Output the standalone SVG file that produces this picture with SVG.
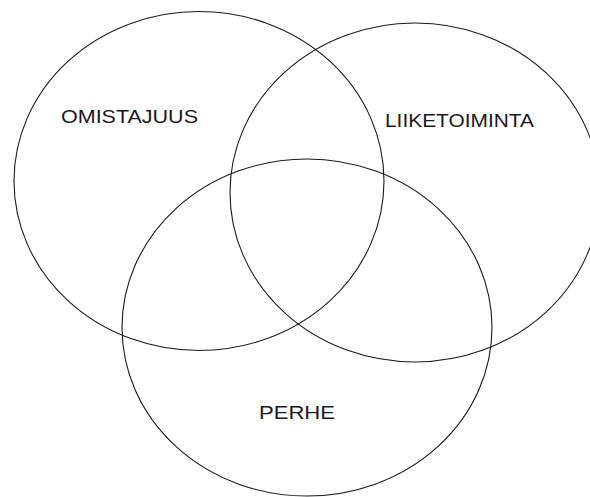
<svg xmlns="http://www.w3.org/2000/svg" width="590" height="497" viewBox="0 0 590 497">
<style>
.c{fill:none;stroke:#1a1a1a;stroke-width:1.1}
.t{font-family:"Liberation Sans",Arial,sans-serif;font-size:19px;fill:#1a1a1a}
</style>
<rect width="590" height="497" fill="#fff"/>
<g id="omistajuus"><ellipse class="c" cx="199" cy="181" rx="185" ry="169.5"/><text class="t" x="61" y="123" textLength="137" lengthAdjust="spacingAndGlyphs">OMISTAJUUS</text></g>
<g id="liiketoiminta"><ellipse class="c" cx="415" cy="192.5" rx="185" ry="169.5"/><text class="t" x="385" y="127" textLength="149" lengthAdjust="spacingAndGlyphs">LIIKETOIMINTA</text></g>
<g id="perhe"><ellipse class="c" cx="307" cy="327.5" rx="185" ry="168.5"/><text class="t" x="259" y="419" textLength="76" lengthAdjust="spacingAndGlyphs">PERHE</text></g>
</svg>
